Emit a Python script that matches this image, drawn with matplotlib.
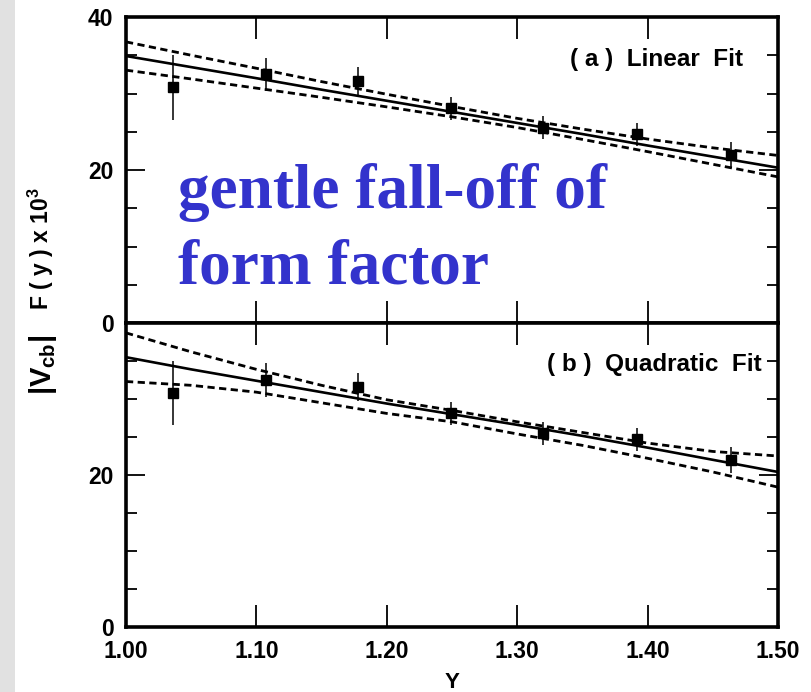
import matplotlib
matplotlib.use("Agg")
import matplotlib.pyplot as plt
from matplotlib.patches import Rectangle

plt.rcParams['font.family'] = ['Liberation Sans', 'DejaVu Sans']
plt.rcParams['font.weight'] = 'bold'
plt.rcParams['mathtext.fontset'] = 'custom'
plt.rcParams['mathtext.rm'] = 'Liberation Sans:bold'
plt.rcParams['mathtext.it'] = 'Liberation Sans:bold'
plt.rcParams['mathtext.bf'] = 'Liberation Sans:bold'

# ---- data ----
pts_x = [1.036, 1.107, 1.178, 1.249, 1.320, 1.392, 1.464]
pts_y = [30.8, 32.5, 31.6, 28.1, 25.5, 24.7, 22.0]
pts_err = [4.2, 2.2, 1.8, 1.5, 1.5, 1.5, 1.7]

curve_x = [1.00, 1.05, 1.10, 1.15, 1.20, 1.25, 1.30, 1.35, 1.40, 1.45, 1.50]
# (a) linear fit
lin_fit = [34.9, 33.45, 32.0, 30.5, 29.05, 27.6, 26.15, 24.7, 23.2, 21.75, 20.3]
lin_upper = [36.75, 35.0, 33.3, 31.55, 29.9, 28.3, 26.75, 25.35, 24.05, 22.9, 21.9]
lin_lower = [33.05, 31.9, 30.7, 29.5, 28.25, 26.95, 25.55, 24.0, 22.4, 20.75, 19.1]
# (b) quadratic fit
quad_fit = [35.5, 33.9, 32.4, 30.9, 29.4, 28.0, 26.6, 25.15, 23.6, 22.0, 20.4]
quad_upper = [38.7, 36.2, 33.9, 31.8, 29.9, 28.5, 27.0, 25.6, 24.2, 23.1, 22.5]
quad_lower = [32.3, 31.8, 30.9, 29.5, 28.1, 27.0, 25.4, 23.9, 22.2, 20.4, 18.4]

x_ticks = [1.00, 1.10, 1.20, 1.30, 1.40, 1.50]
x_ticklabels = ["1.00", "1.10", "1.20", "1.30", "1.40", "1.50"]
panel_labels = ["( a )  Linear  Fit", "( b )  Quadratic  Fit"]

W, H = 812, 692
fig = plt.figure(figsize=(W / 100, H / 100), dpi=100)
fig.patch.set_facecolor('white')
fig.patches.append(Rectangle((0, 0), 15 / W, 1, transform=fig.transFigure,
                             facecolor='#e1e1e1', edgecolor='none', zorder=0))

left = 126 / W
width = (778 - 126) / W
ax_a = fig.add_axes([left, 1 - 323 / H, width, (323 - 17) / H])
ax_b = fig.add_axes([left, 1 - 627 / H, width, (627 - 323) / H])

dash = (2.6, 1.6)
label_x = [1 + (743 - 126) / 652 * 0.5, 1 + (762 - 126) / 652 * 0.5]
label_y = [34.4, 34.6]
for i, (ax, fit, up, lo) in enumerate([
        (ax_a, lin_fit, lin_upper, lin_lower),
        (ax_b, quad_fit, quad_upper, quad_lower)]):
    ax.plot(curve_x, fit, color='black', lw=1.9, solid_capstyle='butt')
    ax.plot(curve_x, up, color='black', lw=2.0, dashes=dash)
    ax.plot(curve_x, lo, color='black', lw=2.0, dashes=dash)
    ax.errorbar(pts_x, pts_y, yerr=pts_err, fmt='s', color='black',
                ms=6.5, elinewidth=1.1, capsize=0)
    ax.set_xlim(1.0, 1.5)
    ax.set_ylim(0, 40)
    ax.set_xticks(x_ticks)
    ax.set_yticks([0, 20, 40])
    ax.set_yticks([5, 10, 15, 25, 30, 35], minor=True)
    ax.tick_params(axis='x', which='major', direction='in', length=16, width=1.3,
                   top=True, bottom=True, labelsize=16.5, pad=9)
    ax.tick_params(axis='y', which='major', direction='in', length=14, width=1.3,
                   left=True, right=True, labelsize=16.5, pad=9)
    ax.tick_params(axis='y', which='minor', direction='in', length=8, width=1.3,
                   left=True, right=True)
    for s in ax.spines.values():
        s.set_linewidth(2.6)
    ax.text(label_x[i], label_y[i], panel_labels[i], ha='right', va='center',
            fontsize=17.5, fontweight='bold')

ax_a.tick_params(axis='x', labelbottom=False)
ax_b.set_xticklabels(x_ticklabels)
ax_b.set_yticks([0, 20, 40])
ax_b.set_yticklabels(["0", "20", ""])
for t in ax_a.get_yticklabels() + ax_b.get_yticklabels() + ax_b.get_xticklabels():
    t.set_fontweight('bold')

fig.text(452 / W, 1 - 682 / H, "Y", ha='center', va='center',
         fontsize=16, fontweight='bold')

fig.text(43 / W, 1 - 365 / H, r"$|V_{cb}|$", rotation=90,
         ha='center', va='center', fontsize=21)
fig.text(41 / W, 1 - 249 / H, r"F ( y ) x 10$^3$", rotation=90,
         ha='center', va='center', fontsize=16.5, fontweight='bold')

blue = '#3333cc'
fig.text(178 / W, 1 - 208 / H, "gentle fall-off of", color=blue,
         fontsize=45.5, fontweight='bold', family=['Liberation Serif'],
         ha='left', va='baseline')
fig.text(178 / W, 1 - 283 / H, "form factor", color=blue,
         fontsize=45.5, fontweight='bold', family=['Liberation Serif'],
         ha='left', va='baseline')

fig.savefig("out.png", dpi=100)
